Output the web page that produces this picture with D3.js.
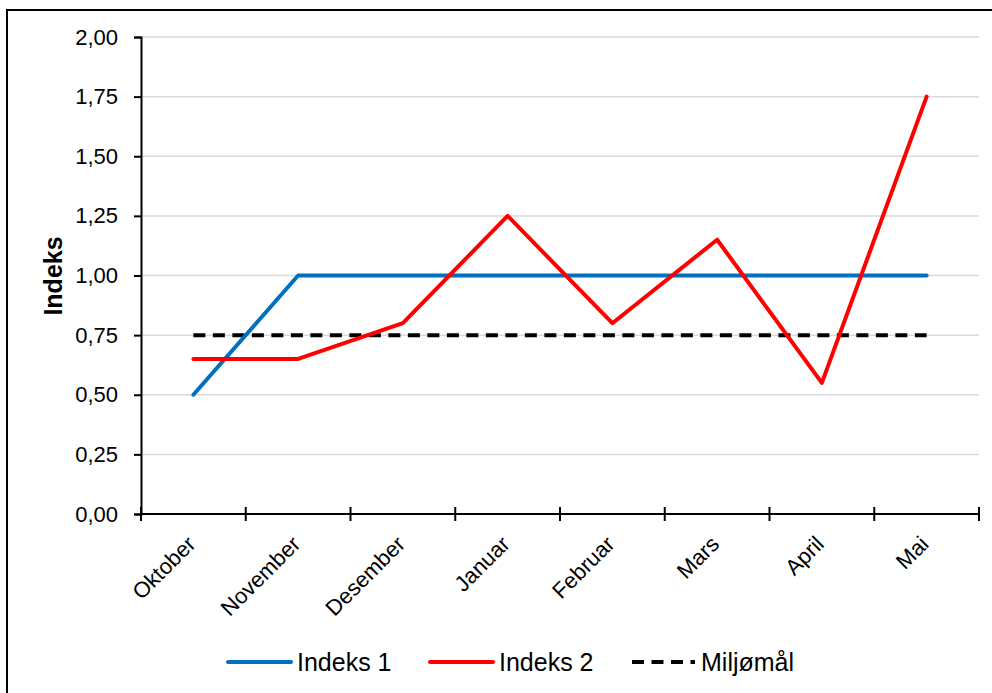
<!DOCTYPE html>
<html>
<head>
<meta charset="utf-8">
<script src="https://cdn.jsdelivr.net/npm/d3@7"></script>
<style>
  html, body { margin: 0; padding: 0; background: #fff; }
  svg { display: block; }
  text { font-family: "Liberation Sans", Arial, sans-serif; fill: #000; }
</style>
</head>
<body>
<svg id="chart" width="992" height="693"></svg>
<script>
// Months on the x axis
const months = ["Oktober", "November", "Desember", "Januar", "Februar", "Mars", "April", "Mai"];
// Index series
const indeks1 = [0.50, 1.00, 1.00, 1.00, 1.00, 1.00, 1.00, 1.00];
const indeks2 = [0.65, 0.65, 0.80, 1.25, 0.80, 1.15, 0.55, 1.75];
// Environmental target
const miljomal = [0.75, 0.75, 0.75, 0.75, 0.75, 0.75, 0.75, 0.75];
// Y axis ticks
const yTicks = [0, 0.25, 0.5, 0.75, 1.0, 1.25, 1.5, 1.75, 2.0];
const seriesNames = ["Indeks 1", "Indeks 2", "Miljømål"];

const svg = d3.select("#chart");
const plotL = 141, plotR = 979, plotT = 37, plotB = 514;

const x = d3.scaleBand().domain(months).range([plotL, plotR]);
const y = d3.scaleLinear().domain([0, 2]).range([plotB, plotT]);
const nb = d3.formatLocale({ decimal: ",", thousands: " ", grouping: [3], currency: ["", " kr"] });
const fmt = nb.format(".2f");

// Outer frame
svg.append("rect")
  .attr("x", 7).attr("y", 10).attr("width", 1000).attr("height", 700)
  .attr("fill", "none").attr("stroke", "#000").attr("stroke-width", 2);

// Horizontal gridlines
svg.append("g").selectAll("line").data(yTicks.filter(d => d > 0)).join("line")
  .attr("x1", plotL).attr("x2", plotR)
  .attr("y1", d => y(d)).attr("y2", d => y(d))
  .attr("stroke", "#d9d9d9").attr("stroke-width", 1.5);

// Y axis
const yAxis = svg.append("g").attr("transform", `translate(${plotL},0)`)
  .call(d3.axisLeft(y).tickValues(yTicks).tickFormat(fmt).tickSize(7).tickPadding(16));
yAxis.select(".domain").attr("stroke", "#000").attr("stroke-width", 2);
yAxis.selectAll(".tick line").attr("stroke", "#000").attr("stroke-width", 2);
yAxis.selectAll(".tick text")
  .style("font-family", "'Liberation Sans', Arial, sans-serif")
  .style("font-size", "22px").attr("fill", "#000");

// X axis: tick marks at category boundaries, crossing the axis line
const bounds = months.map(m => x(m)).concat([plotR]);
const xAxis = svg.append("g");
xAxis.append("line")
  .attr("x1", plotL).attr("x2", plotR).attr("y1", plotB).attr("y2", plotB)
  .attr("stroke", "#000").attr("stroke-width", 2);
xAxis.selectAll("line.tk").data(bounds).join("line").attr("class", "tk")
  .attr("x1", d => d).attr("x2", d => d)
  .attr("y1", plotB - 7).attr("y2", plotB + 7)
  .attr("stroke", "#000").attr("stroke-width", 2);
xAxis.selectAll("text").data(months).join("text")
  .attr("transform", d => `translate(${x(d) + x.bandwidth() / 2 - 2},${plotB + 26}) rotate(-45)`)
  .attr("text-anchor", "end").attr("dy", "0.35em")
  .style("font-size", "22px")
  .text(d => d);

// Y axis title
svg.append("text")
  .attr("transform", `translate(53,276) rotate(-90)`)
  .attr("text-anchor", "middle").attr("dy", "0.35em")
  .style("font-size", "25px").style("font-weight", "bold")
  .text("Indeks");

const cx = d => x(d) + x.bandwidth() / 2;
const line = d3.line().x(d => cx(d.m)).y(d => y(d.v));
const toPts = arr => arr.map((v, i) => ({ m: months[i], v }));

const series = [
  { name: seriesNames[0], data: indeks1, color: "#0070C0", dash: null },
  { name: seriesNames[1], data: indeks2, color: "#FF0000", dash: null },
  { name: seriesNames[2], data: miljomal, color: "#000000", dash: "12,7.5" }
];

// Draw target line first so the index lines sit over it where they cross
[series[2], series[0], series[1]].forEach(s => {
  svg.append("path")
    .attr("d", line(toPts(s.data)))
    .attr("fill", "none")
    .attr("stroke", s.color)
    .attr("stroke-width", 4)
    .attr("stroke-linejoin", "round")
    .attr("stroke-linecap", s.dash ? "butt" : "round")
    .attr("stroke-dasharray", s.dash);
});

// Legend
const legendItems = [
  { s: series[0], x0: 228 },
  { s: series[1], x0: 430 },
  { s: series[2], x0: 632 }
];
const ly = 662;
const lg = svg.append("g");
legendItems.forEach(it => {
  lg.append("line")
    .attr("x1", it.x0).attr("x2", it.x0 + 63).attr("y1", ly).attr("y2", ly)
    .attr("stroke", it.s.color).attr("stroke-width", 4)
    .attr("stroke-linecap", it.s.dash ? "butt" : "round")
    .attr("stroke-dasharray", it.s.dash);
  lg.append("text")
    .attr("x", it.x0 + 69).attr("y", ly).attr("dy", "0.35em")
    .style("font-size", "25px")
    .text(it.s.name);
});
</script>
</body>
</html>
